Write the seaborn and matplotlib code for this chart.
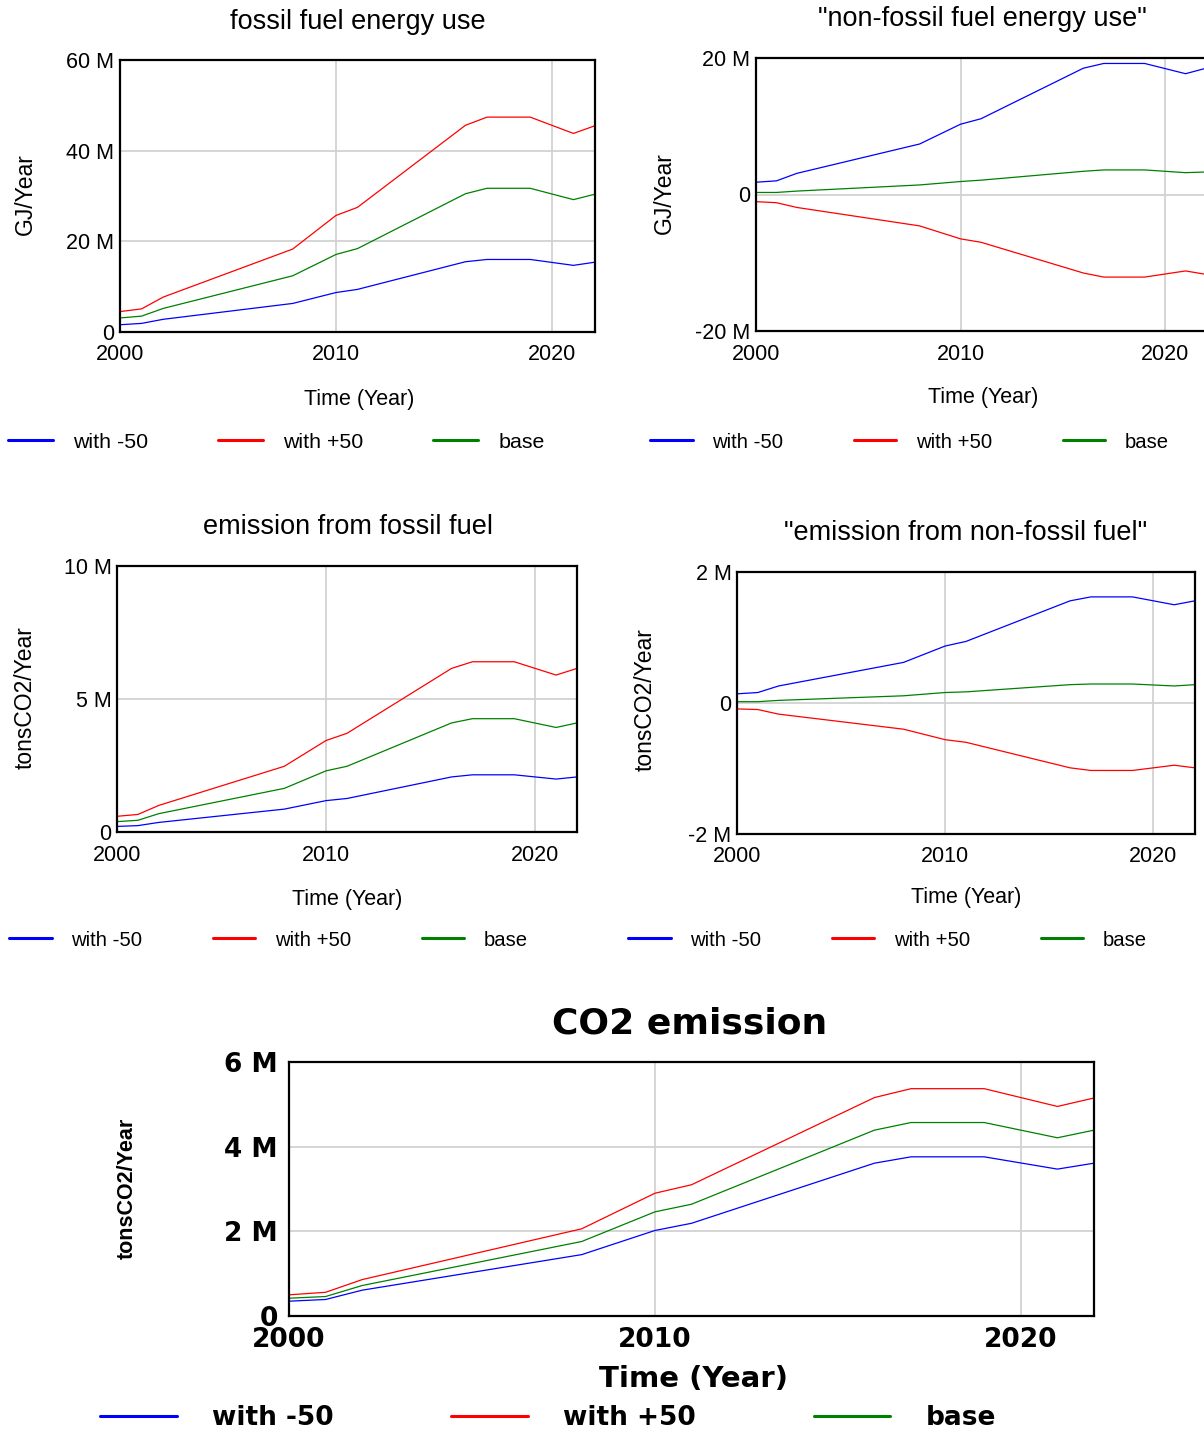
import matplotlib
matplotlib.use("Agg")
import matplotlib.pyplot as plt
from matplotlib.font_manager import FontProperties
from matplotlib.ticker import FuncFormatter
import pandas as pd
import seaborn as sns

# Simulation output, values in millions
years = [2000, 2001, 2002, 2008, 2010, 2011, 2016, 2017, 2019, 2021, 2022]
scenarios = ["with -50", "with +50", "base"]
palette = {"with -50": "#0000ff", "with +50": "#ff0000", "base": "#008000"}

# fossil fuel energy use (GJ/Year)
fossil_use_minus = [1.6, 1.9, 2.8, 6.3, 8.7, 9.4, 15.5, 16.0, 16.0, 14.7, 15.4]
fossil_use_plus = [4.5, 5.1, 7.7, 18.3, 25.7, 27.5, 45.6, 47.4, 47.4, 43.8, 45.5]
fossil_use_base = [3.1, 3.5, 5.2, 12.4, 17.1, 18.4, 30.5, 31.7, 31.7, 29.2, 30.4]

# non-fossil fuel energy use (GJ/Year)
nonfossil_use_minus = [1.8, 2.0, 3.1, 7.4, 10.3, 11.1, 18.5, 19.2, 19.2, 17.7, 18.5]
nonfossil_use_plus = [-1.05, -1.2, -1.9, -4.6, -6.5, -7.0, -11.5, -12.1, -12.1, -11.2, -11.7]
nonfossil_use_base = [0.3, 0.3, 0.5, 1.4, 1.9, 2.1, 3.4, 3.6, 3.6, 3.2, 3.3]

# emission from fossil fuel (tonsCO2/Year)
fossil_em_minus = [0.21, 0.24, 0.36, 0.86, 1.18, 1.26, 2.07, 2.15, 2.15, 1.99, 2.07]
fossil_em_plus = [0.59, 0.66, 1.0, 2.47, 3.44, 3.71, 6.15, 6.4, 6.4, 5.9, 6.15]
fossil_em_base = [0.39, 0.44, 0.69, 1.64, 2.3, 2.47, 4.1, 4.26, 4.26, 3.93, 4.1]

# emission from non-fossil fuel (tonsCO2/Year)
nonfossil_em_minus = [0.14, 0.16, 0.26, 0.62, 0.87, 0.94, 1.56, 1.62, 1.62, 1.5, 1.56]
nonfossil_em_plus = [-0.09, -0.10, -0.17, -0.40, -0.56, -0.60, -0.99, -1.03, -1.03, -0.95, -0.99]
nonfossil_em_base = [0.02, 0.02, 0.04, 0.11, 0.16, 0.17, 0.28, 0.29, 0.29, 0.26, 0.28]

# total CO2 emission (tonsCO2/Year)
co2_minus = [0.35, 0.39, 0.61, 1.45, 2.02, 2.19, 3.61, 3.76, 3.76, 3.47, 3.61]
co2_plus = [0.50, 0.56, 0.86, 2.06, 2.90, 3.10, 5.16, 5.37, 5.37, 4.95, 5.15]
co2_base = [0.42, 0.46, 0.72, 1.76, 2.46, 2.64, 4.39, 4.57, 4.57, 4.21, 4.39]

sns.set_theme(style="whitegrid")
SANS = ["Liberation Sans", "DejaVu Sans"]
plt.rcParams["font.family"] = SANS
plt.rcParams.update({
    "text.color": "black",
    "axes.labelcolor": "black",
    "xtick.color": "black",
    "ytick.color": "black",
    "axes.edgecolor": "black",
    "axes.linewidth": 1.6,
    "axes.facecolor": "white",
    "grid.color": "#d2d2d2",
    "grid.linewidth": 1.3,
    "xtick.major.size": 0,
    "ytick.major.size": 0,
})

W, H = 1204, 1432
fig = plt.figure(figsize=(W / 100, H / 100), dpi=100)


def fx(px):
    return px / W


def fy(py):
    return 1 - py / H


def m_label(v, _pos):
    return "0" if abs(v) < 1e-9 else f"{v:g} M"


panels = [
    dict(series=(fossil_use_minus, fossil_use_plus, fossil_use_base),
         box=(120, 60, 595, 332), ylim=(0, 60), yticks=[0, 20, 40, 60],
         title="fossil fuel energy use", title_xy=(358, 22),
         ylabel="GJ/Year", ylabel_xy=(25, 194), xlabel_xy=(359, 399),
         legend_xy=(8, 442), legend_size=15.4, legend_gap=3.25, wide=False),
    dict(series=(nonfossil_use_minus, nonfossil_use_plus, nonfossil_use_base),
         box=(756, 58, 1206, 331), ylim=(-20, 20), yticks=[-20, 0, 20],
         title='"non-fossil fuel energy use"', title_xy=(982, 19),
         ylabel="GJ/Year", ylabel_xy=(664, 193), xlabel_xy=(983, 398),
         legend_xy=(650, 442), legend_size=14.6, legend_gap=3.5, wide=False),
    dict(series=(fossil_em_minus, fossil_em_plus, fossil_em_base),
         box=(117, 566, 577, 832), ylim=(0, 10), yticks=[0, 5, 10],
         title="emission from fossil fuel", title_xy=(348, 527),
         ylabel="tonsCO2/Year", ylabel_xy=(25, 698), xlabel_xy=(347, 899),
         legend_xy=(9, 940), legend_size=14.6, legend_gap=3.5, wide=False),
    dict(series=(nonfossil_em_minus, nonfossil_em_plus, nonfossil_em_base),
         box=(737, 572, 1195, 834), ylim=(-2, 2), yticks=[-2, 0, 2],
         title='"emission from non-fossil fuel"', title_xy=(966, 533),
         ylabel="tonsCO2/Year", ylabel_xy=(645, 700), xlabel_xy=(966, 898),
         legend_xy=(628, 940), legend_size=14.6, legend_gap=3.5, wide=False),
    dict(series=(co2_minus, co2_plus, co2_base),
         box=(289, 1062, 1094, 1316), ylim=(0, 6), yticks=[0, 2, 4, 6],
         title="CO2 emission", title_xy=(690, 1024),
         ylabel="tonsCO2/Year", ylabel_xy=(127, 1188), xlabel_xy=(694, 1379),
         legend_xy=(100, 1418), legend_size=19, legend_gap=4.45, wide=True),
]

for p in panels:
    l, t, r, b = p["box"]
    ax = fig.add_axes([fx(l), fy(b), fx(r) - fx(l), (b - t) / H])

    frame = pd.DataFrame({
        "year": years * 3,
        "value": [v for s in p["series"] for v in s],
        "scenario": [name for name in scenarios for _ in years],
    })
    sns.lineplot(data=frame, x="year", y="value", hue="scenario",
                 hue_order=scenarios, palette=palette, linewidth=0.9,
                 ax=ax, legend=True)

    ax.set_xlim(2000, 2022)
    ax.set_ylim(*p["ylim"])
    ax.set_xticks([2000, 2010, 2020])
    ax.set_yticks(p["yticks"])
    ax.yaxis.set_major_formatter(FuncFormatter(m_label))
    ax.set_xlabel("")
    ax.set_ylabel("")
    ax.grid(True)
    for sp in ax.spines.values():
        sp.set_visible(True)
        sp.set_color("black")
        sp.set_linewidth(1.6)

    if p["wide"]:
        tick_fp = FontProperties(family="DejaVu Sans", weight="bold", size=19)
        title_fp = FontProperties(family="DejaVu Sans", weight="bold", size=26)
        xlab_fp = FontProperties(family="DejaVu Sans", weight="bold", size=21)
        ylab_fp = FontProperties(family="Liberation Sans", weight="bold", size=15.5)
        leg_fp = FontProperties(family="DejaVu Sans", weight="bold", size=p["legend_size"])
        ax.tick_params(axis="y", pad=8)
        ax.tick_params(axis="x", pad=8)
        leg_kw = dict(handlelength=2.9, handletextpad=1.35, columnspacing=p["legend_gap"])
    else:
        tick_fp = FontProperties(family=SANS, size=15.5)
        title_fp = FontProperties(family=SANS, size=19.5)
        xlab_fp = FontProperties(family=SANS, size=15.5)
        ylab_fp = FontProperties(family=SANS, size=16.5)
        leg_fp = FontProperties(family=SANS, size=p["legend_size"])
        ax.tick_params(axis="y", pad=4)
        ax.tick_params(axis="x", pad=9)
        leg_kw = dict(handlelength=2.1, handletextpad=0.95, columnspacing=p["legend_gap"])

    for lab in ax.get_xticklabels() + ax.get_yticklabels():
        lab.set_fontproperties(tick_fp)
        lab.set_color("black")

    fig.text(fx(p["title_xy"][0]), fy(p["title_xy"][1]), p["title"],
             ha="center", va="center", fontproperties=title_fp)
    fig.text(fx(p["xlabel_xy"][0]), fy(p["xlabel_xy"][1]), "Time (Year)",
             ha="center", va="center", fontproperties=xlab_fp)
    fig.text(fx(p["ylabel_xy"][0]), fy(p["ylabel_xy"][1]), p["ylabel"],
             ha="center", va="center", rotation=90, fontproperties=ylab_fp)

    old = ax.get_legend()
    handles = old.legend_handles
    labels = [txt.get_text() for txt in old.get_texts()]
    old.remove()
    leg = ax.legend(handles, labels, loc="center left",
                    bbox_to_anchor=(fx(p["legend_xy"][0]), fy(p["legend_xy"][1])),
                    bbox_transform=fig.transFigure, ncol=3, frameon=False,
                    borderpad=0, borderaxespad=0, prop=leg_fp, **leg_kw)
    for h in leg.get_lines():
        h.set_linewidth(2.2)

fig.savefig("out.png", dpi=100, facecolor="white")
